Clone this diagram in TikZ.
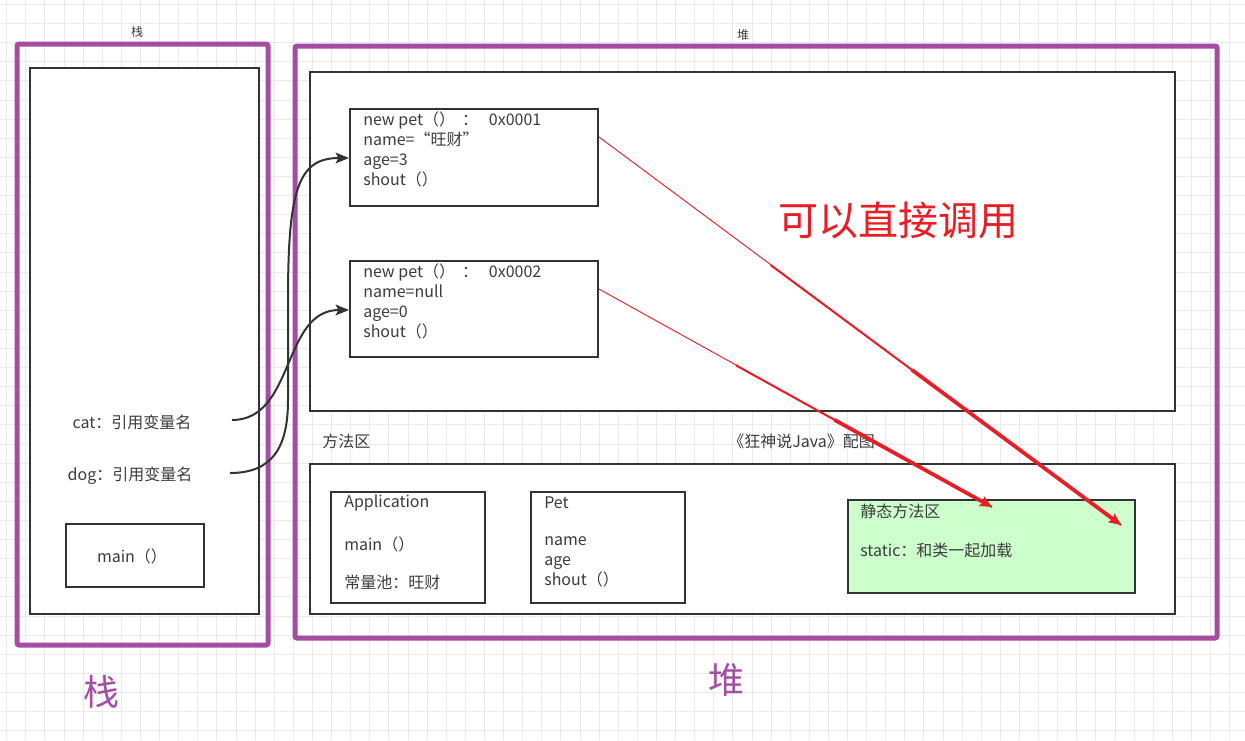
\documentclass[tikz,border=0pt]{standalone}
\usepackage{fontspec}
\setmainfont{Noto Sans CJK SC}
\usetikzlibrary{arrows.meta,fit,calc}
\definecolor{vio}{RGB}{165,76,165}
\definecolor{dk}{RGB}{51,51,51}
\definecolor{tx}{RGB}{60,60,60}
\definecolor{rd}{RGB}{232,30,36}
\definecolor{gmin}{RGB}{234,234,234}
\definecolor{grn}{RGB}{204,255,204}
\begin{document}
\begin{tikzpicture}[x=0.75pt,y=-0.75pt,
  box/.style={draw=dk, line width=1.5pt, fill=white, inner sep=0pt},
  region/.style={draw=vio, line width=3.75pt, rounded corners=1.5pt, inner sep=0pt},
  txt/.style={text=tx, font=\fontsize{12}{15}\selectfont, inner sep=0pt, align=left},
  small/.style={text=tx, font=\fontsize{9}{9}\selectfont, inner sep=0pt},
  big/.style={text=vio, font=\fontsize{27}{27}\selectfont, inner sep=0pt},
  ref/.style={draw=dk, line width=1.5pt, -{Stealth[length=10pt,width=8pt,inset=2pt]}},
  call/.style={draw=rd, line width=0.7pt},
  callmid/.style={draw=rd, line width=1.5pt},
  callthick/.style={draw=rd, line width=2.8pt, -{Stealth[length=9pt,width=8pt,inset=1.5pt]}}]
\useasboundingbox (0,0) rectangle (1245,740);
\fill[white] (0,0) rectangle (1245,740);
% grid
\foreach \i in {0,...,65}{\draw[gmin, line width=0.75pt] ({6.7+19.11*\i},0) -- ({6.7+19.11*\i},740);}
\foreach \j in {0,...,39}{\draw[gmin, line width=0.75pt] (0,{4.5+19.11*\j}) -- (1245,{4.5+19.11*\j});}

% stack
\node[region, fit={(17,44) (268,645)}] (stack) {};
\node[small] (stacklbl) at (137,32) {栈};
\node[box, fit={(30,68) (259,614)}] (stackin) {};
\node[txt] (cat) at (132,422) {cat：引用变量名};
\node[txt] (dog) at (130,476) {dog：引用变量名};
\node[box, fit={(66,524) (204,587)}] (mainf) {};
\node[txt] (maint) at (132,556) {main（）};
\node[big] (stackbig) at (101,692) {栈};

% heap
\node[region, fit={(295,46) (1217,638)}] (heap) {};
\node[small] (heaplbl) at (743,35) {堆};
\node[box, fit={(310,72) (1175,411)}] (heapin) {};
\node[box, fit={(350,109) (598,206)}] (o1) {};
\node[txt, anchor=north west] (o1t) at (363,112) {new pet（）\ \ ：\ \ \ 0x0001\\name=“旺财”\\age=3\\shout（）};
\node[box, fit={(350,261) (598,357)}] (o2) {};
\node[txt, anchor=north west] (o2t) at (363,264) {new pet（）\ \ ：\ \ \ 0x0002\\name=null\\age=0\\shout（）};
\node[text=rd, font=\fontsize{30}{30}\selectfont, inner sep=0pt] (direct) at (898,220) {可以直接调用};

\node[txt, anchor=west] (mlbl) at (322,441) {方法区};
\node[txt, anchor=west] (cap) at (728,441) {《狂神说Java》配图};
\node[box, fit={(310,464) (1175,614)}] (method) {};
\node[box, fit={(331,492) (485,603)}] (app) {};
\node[txt, anchor=west] (appt1) at (344,503) {Application};
\node[txt, anchor=west] (appt2) at (344,544) {main（）};
\node[txt, anchor=west] (appt3) at (344,582) {常量池：旺财};
\node[box, fit={(531,492) (685,603)}] (pet) {};
\node[txt, anchor=west] (pett1) at (544,503) {Pet};
\node[txt, anchor=north west] (pett2) at (544,536) {name\\age\\shout（）};
\node[box, fill=grn, fit={(848,500) (1135,593)}] (static) {};
\node[txt, anchor=west] (st1) at (860,511) {静态方法区};
\node[txt, anchor=west] (st2) at (860,550) {static：和类一起加载};
\node[big] (heapbig) at (726,680) {堆};

% references
\coordinate (catS) at (232,420);
\coordinate (dogS) at (230,473);
\draw[ref] (catS) .. controls (295,420) and (282,310) .. (o2.west |- 0,310);
\draw[ref] (dogS) .. controls (272,473) and (288,448) .. (288,400) -- (288,300) .. controls (288,190) and (298,158) .. (o1.west |- 0,158);

% red call arrows
\coordinate (a1s) at (598,137);
\coordinate (a1e) at (1121,525);
\coordinate (a2s) at (598,289);
\coordinate (a2e) at (992,507);
\draw[call] (o1.east |- a1s) -- (a1e);
\draw[callmid] ($(a1s)!0.33!(a1e)$) -- (a1e);
\draw[callthick] ($(a1s)!0.6!(a1e)$) -- (a1e);
\draw[call] (o2.east |- a2s) -- (a2e);
\draw[callmid] ($(a2s)!0.35!(a2e)$) -- (a2e);
\draw[callthick] ($(a2s)!0.6!(a2e)$) -- (a2e);
\end{tikzpicture}
\end{document}
